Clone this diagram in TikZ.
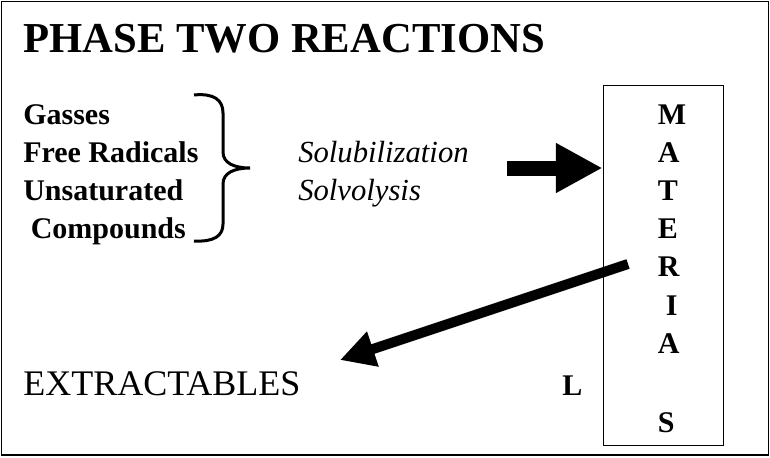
\documentclass[tikz,border=0pt]{standalone}
\usepackage{fontspec}
\setmainfont{Liberation Serif}
\usetikzlibrary{arrows.meta,positioning}

\begin{document}
\begin{tikzpicture}[
  x=0.75pt,y=-0.75pt,
  every node/.style={inner sep=0pt},
  heading/.style={anchor=base west,font=\fontsize{32}{38}\selectfont\bfseries},
  item/.style={anchor=base west,font=\fontsize{22.5}{27}\selectfont\bfseries},
  proc/.style={anchor=base west,font=\fontsize{23}{27}\selectfont\itshape},
  product/.style={anchor=base west,font=\fontsize{27}{32}\selectfont},
  fat/.style={line width=11.25pt,-{Triangle[length=35pt,width=35pt]}},
  slim/.style={line width=7.5pt,-{Triangle[length=26pt,width=26pt]}},
]
  \useasboundingbox (0,0) rectangle (770,457);
  \draw[line width=1pt] (1.5,1.5) rectangle (768.5,455);

  \node[heading] (title) at (23,52) {PHASE TWO REACTIONS};

  % reactive species
  \node[item] (gas) at (23,124) {Gasses};
  \node[item,below=28.5pt of gas.base west,anchor=base west] (rad) {Free Radicals};
  \node[item,below=28.5pt of rad.base west,anchor=base west] (unsat) {Unsaturated};
  \node[item,below=28.5pt of unsat.base west,anchor=base west] (comp) {\ Compounds};
  \draw[line width=2.25pt] (194,95) .. controls (214,93) and (223,100) .. (223,113)
    -- (223,152) .. controls (223,163) and (234,168) .. (250,168)
    .. controls (234,168) and (223,173) .. (223,184)
    -- (223,224) .. controls (223,236) and (214,242) .. (194,241);

  \node[proc] (solub) at (298,162) {Solubilization};
  \node[proc,below=28.5pt of solub.base west,anchor=base west] (solvo) {Solvolysis};

  % material column
  \node[draw,line width=1pt,anchor=north west,minimum width=90pt,minimum height=270pt] (mat) at (602.5,85) {};
  \node[item] (m) at (657.5,124) {M};
  \node[item,below=28.5pt of m.base west,anchor=base west] (a1) {A};
  \node[item,below=28.5pt of a1.base west,anchor=base west] (t) {T};
  \node[item,below=28.5pt of t.base west,anchor=base west] (e) {E};
  \node[item,below=29pt of e.base west,anchor=base west] (r) {R};
  \node[item] (i) at (665.5,315) {I};
  \node[item] (a2) at (657.5,353) {A};
  \node[item] (l) at (562,395) {L};
  \node[item] (s) at (657.5,432) {S};

  \node[product] (extr) at (23,395) {EXTRACTABLES};

  \coordinate (push) at (507,168);
  \draw[fat] (push) -- (push -| mat.west);
  \coordinate (pull) at (628,264);
  \coordinate (drop) at (340,360);
  \draw[slim] (pull) -- (drop);
\end{tikzpicture}
\end{document}
